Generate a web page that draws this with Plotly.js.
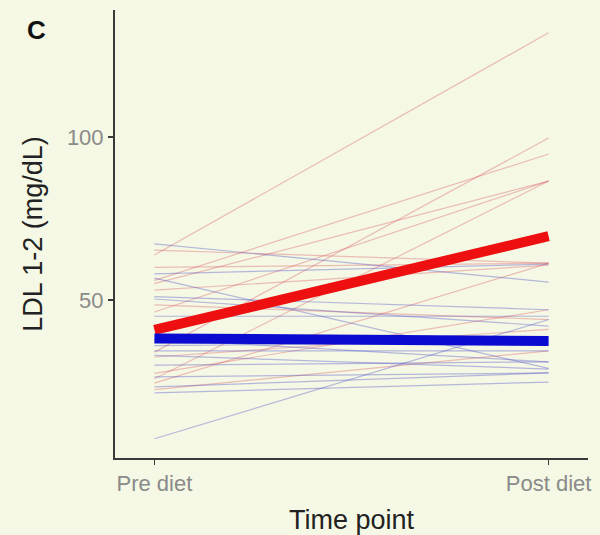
<!DOCTYPE html>
<html><head><meta charset="utf-8">
<script src="https://cdn.plot.ly/plotly-3.0.1.min.js"></script>
<style>html,body{margin:0;padding:0;background:#f4f8e4;}</style>
</head><body>
<div id="chart" style="width:600px;height:535px;"></div>
<script>
const timePoints = ["Pre diet", "Post diet"];

// Individual subjects, group 1 (red)
const redPre  = [63.8, 34.0, 56.0, 55.0, 46.3, 25.8, 60.0, 65.3, 53.0, 48.5, 32.5, 24.5, 27.5, 22.5];
const redPost = [132.0, 99.7, 94.8, 86.5, 86.5, 86.5, 61.3, 61.3, 60.7, 44.0, 41.0, 61.3, 47.0, 34.4];

// Individual subjects, group 2 (blue)
const bluePre  = [67.2, 56.7, 51.0, 50.3, 34.4, 30.0, 26.4, 23.3, 21.5, 7.4, 58.0, 45.0, 36.0, 33.0, 38.0];
const bluePost = [55.5, 29.0, 47.0, 42.0, 34.4, 31.0, 27.6, 27.6, 24.8, 44.0, 61.0, 45.0, 37.0, 28.8, 31.0];

// Group means
const redMean  = [40.8, 69.6];
const blueMean = [38.2, 37.4];

const yTicks = [50, 100];

const traces = [];
redPre.forEach((v, i) => traces.push({
  x: timePoints, y: [v, redPost[i]], type: "scatter", mode: "lines",
  line: {color: "rgba(220,80,95,0.36)", width: 1.2}, hoverinfo: "skip", showlegend: false
}));
bluePre.forEach((v, i) => traces.push({
  x: timePoints, y: [v, bluePost[i]], type: "scatter", mode: "lines",
  line: {color: "rgba(70,70,200,0.36)", width: 1.2}, hoverinfo: "skip", showlegend: false
}));
traces.push({x: timePoints, y: redMean, type: "scatter", mode: "lines",
  line: {color: "#ee1010", width: 10}, showlegend: false});
traces.push({x: timePoints, y: blueMean, type: "scatter", mode: "lines",
  line: {color: "#0a0ad0", width: 10}, showlegend: false});

const layout = {
  width: 600, height: 535,
  margin: {l: 115, r: 12, t: 10, b: 77},
  paper_bgcolor: "#f4f8e4", plot_bgcolor: "#f4f8e4",
  font: {family: "Liberation Sans, Arial, sans-serif"},
  showlegend: false,
  xaxis: {
    type: "category", range: [-0.1, 1.1],
    showline: true, linewidth: 2, linecolor: "#3a3a3a",
    showgrid: false, zeroline: false,
    ticks: "outside", ticklen: 5, tickwidth: 1.5, tickcolor: "#3a3a3a",
    tickfont: {size: 22, color: "#8a8a8a"},
    title: {text: "Time point", font: {size: 27, color: "#222"}, standoff: 15}
  },
  yaxis: {
    range: [1.5, 139],
    tickvals: yTicks, ticktext: yTicks.map(String),
    showline: true, linewidth: 2, linecolor: "#3a3a3a",
    showgrid: false, zeroline: false,
    ticks: "outside", ticklen: 5, tickwidth: 1.5, tickcolor: "#3a3a3a",
    tickfont: {size: 22, color: "#8a8a8a"},
    title: {text: "LDL 1-2 (mg/dL)", font: {size: 27, color: "#222"}, standoff: 16}
  },
  annotations: [{
    text: "<b>C</b>", xref: "paper", yref: "paper", x: -0.167, y: 0.955,
    xanchor: "center", yanchor: "middle", showarrow: false,
    font: {size: 26, color: "#111", family: "Liberation Sans, Arial, sans-serif"}
  }]
};

Plotly.newPlot("chart", traces, layout, {displayModeBar: false, staticPlot: true});
</script>
</body></html>
